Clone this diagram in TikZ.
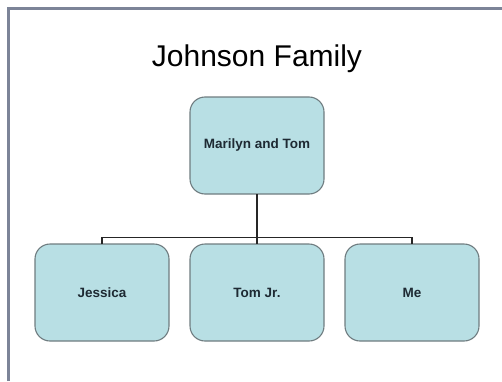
\documentclass[tikz,border=0pt]{standalone}
\usepackage{fontspec}
\setmainfont{Liberation Sans}
\usepackage{tikz}
\usetikzlibrary{positioning}
\usetikzlibrary{calc}

\definecolor{boxfill}{HTML}{B8DFE4}
\definecolor{boxedge}{HTML}{6F7C80}
\definecolor{boxtext}{HTML}{1E2A33}
\definecolor{slideframe}{HTML}{7C8498}

\begin{document}
\begin{tikzpicture}
    [
        x=1pt, y=1pt,
        famblock/.style={draw=boxedge, fill=boxfill, line width=1.1pt, rounded corners=15pt,
            minimum width=134pt, minimum height=97pt, inner sep=0pt, outer sep=0pt,
            text=boxtext, font=\fontsize{13.5}{16}\selectfont\bfseries},
        famline/.style={draw=black!85, line width=1.1pt},
    ]
    \useasboundingbox (0,0) rectangle (502,381);
    \draw[slideframe, line width=3pt] (8.5,0) -- (8.5,372.5) -- (502,372.5);

    \node[anchor=base, font=\fontsize{30}{36}\selectfont] (title) at (257,314.3) {Johnson Family};

    \node[famblock] (parents) at (257,235.5) {Marilyn and Tom};
    \node[famblock, below=50pt of parents] (tomjr) {Tom Jr.};
    \node[famblock, left=21pt of tomjr] (jessica) {Jessica};
    \node[famblock, right=21pt of tomjr] (me) {Me};

    \coordinate (fork) at ($(tomjr.north)+(0,6.5)$);
    \draw[famline] (parents.south) -- (tomjr.north);
    \draw[famline] (jessica.north) |- (fork) -| (me.north);
\end{tikzpicture}
\end{document}
